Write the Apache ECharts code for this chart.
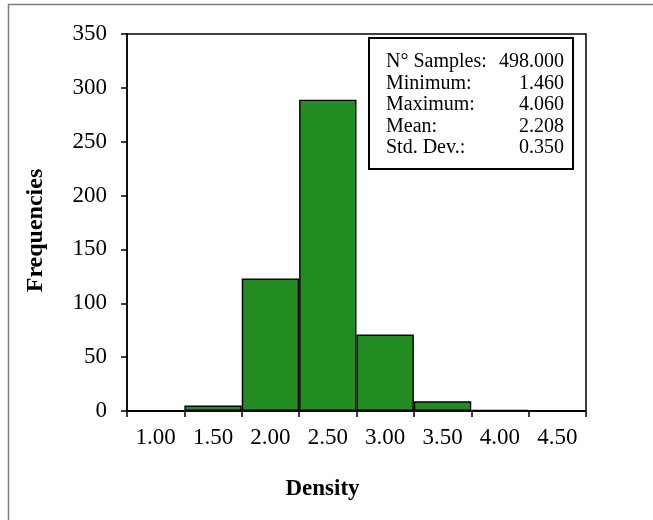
<!DOCTYPE html>
<html>
<head>
<meta charset="utf-8">
<script src="https://cdn.jsdelivr.net/npm/echarts@6/dist/echarts.min.js"></script>
<style>
html,body{margin:0;padding:0;background:#fff;}
#chart{width:653px;height:520px;}
</style>
</head>
<body>
<div id="chart"></div>
<script>
const categories = ['1.00','1.50','2.00','2.50','3.00','3.50','4.00','4.50'];
const frequencies = [0, 5, 123, 289, 71, 9, 1, 0];
const yTicks = [0, 50, 100, 150, 200, 250, 300, 350];
const statLabels = ['N\u00b0 Samples:', 'Minimum:', 'Maximum:', 'Mean:', 'Std. Dev.:'];
const statValues = ['498.000', '1.460', '4.060', '2.208', '0.350'];

const FONT = '"Liberation Serif", "Times New Roman", serif';
const chart = echarts.init(document.getElementById('chart'));

const statTexts = [];
statLabels.forEach((lab, i) => {
  const cy = 62 + i * 21.5;
  statTexts.push({type:'text', z: 20, x: 386, y: cy, style:{text: lab, font: '20px ' + FONT, fill:'#000', align:'left', verticalAlign:'middle'}});
  statTexts.push({type:'text', z: 20, x: 564, y: cy, style:{text: statValues[i], font: '20px ' + FONT, fill:'#000', align:'right', verticalAlign:'middle'}});
});

chart.setOption({
  animation: false,
  backgroundColor: '#fff',
  grid: {left: 127, right: 67, top: 34, bottom: 109, show: true, borderColor: '#000', borderWidth: 1.5},
  xAxis: {
    type: 'category',
    data: categories,
    name: 'Density',
    nameLocation: 'middle',
    nameGap: 67,
    nameTextStyle: {fontFamily: FONT, fontSize: 23, fontWeight: 'bold', color: '#000', padding: [0, 68, 0, 0]},
    axisLine: {lineStyle: {color: '#000', width: 1.5}},
    axisTick: {show: true, length: 6, lineStyle: {color: '#000', width: 1.5}},
    axisLabel: {fontFamily: FONT, fontSize: 23, color: '#000', margin: 15},
    splitLine: {show: false}
  },
  yAxis: {
    type: 'value',
    min: yTicks[0],
    max: yTicks[yTicks.length-1],
    interval: 50,
    name: 'Frequencies',
    nameLocation: 'middle',
    nameGap: 79,
    nameTextStyle: {fontFamily: FONT, fontSize: 24, fontWeight: 'bold', color: '#000', padding: [0, 16, 0, 0]},
    axisLine: {show: true, lineStyle: {color: '#000', width: 1.5}},
    axisTick: {show: true, length: 6, lineStyle: {color: '#000', width: 1.5}},
    axisLabel: {fontFamily: FONT, fontSize: 23, color: '#000', margin: 20},
    splitLine: {show: false}
  },
  series: [{
    type: 'bar',
    data: frequencies,
    barCategoryGap: '0%',
    itemStyle: {color: '#228b22', borderColor: '#000', borderWidth: 1.4}
  }],
  graphic: [
    {type:'rect', shape:{x:8.5, y:4.5, width:700, height:600}, style:{fill:'none', stroke:'#808080', lineWidth:1.5}, silent:true, z:-10},
    {type:'rect', shape:{x:369, y:38, width:204, height:131}, style:{fill:'#fff', stroke:'#000', lineWidth:2}, z:10}
  ].concat(statTexts)
});
</script>
</body>
</html>
